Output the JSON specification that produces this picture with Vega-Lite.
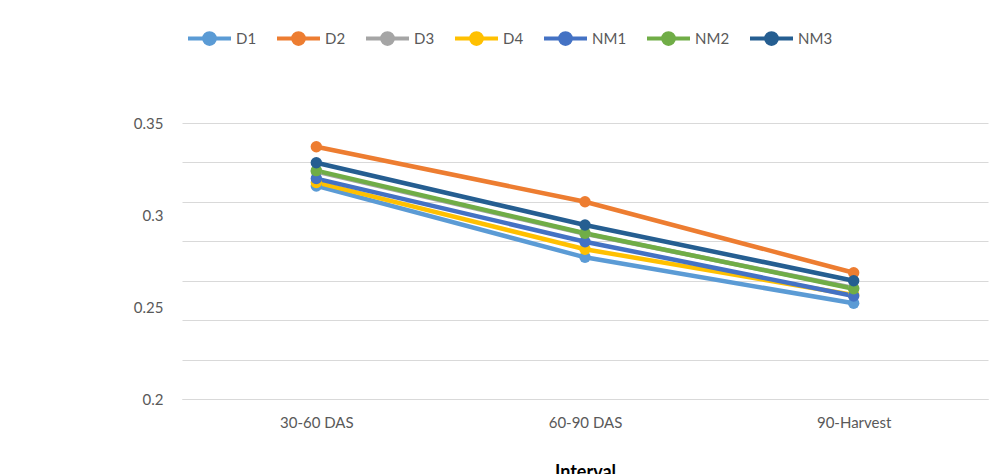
{
  "$schema": "https://vega.github.io/schema/vega-lite/v6.json",
  "autosize": "none",
  "width": 806,
  "height": 276,
  "padding": {"left": 182, "top": 123, "right": 14, "bottom": 75},
  "background": "white",
  "config": {
    "font": "Lato",
    "view": {"stroke": null}
  },
  "data": {
    "values": [
      {"stage": "30-60 DAS", "series": "D1", "value": 0.3158},
      {"stage": "60-90 DAS", "series": "D1", "value": 0.2770},
      {"stage": "90-Harvest", "series": "D1", "value": 0.2520},
      {"stage": "30-60 DAS", "series": "D2", "value": 0.3371},
      {"stage": "60-90 DAS", "series": "D2", "value": 0.3072},
      {"stage": "90-Harvest", "series": "D2", "value": 0.2686},
      {"stage": "30-60 DAS", "series": "D3", "value": 0.3236},
      {"stage": "60-90 DAS", "series": "D3", "value": 0.2898},
      {"stage": "90-Harvest", "series": "D3", "value": 0.2603},
      {"stage": "30-60 DAS", "series": "D4", "value": 0.3177},
      {"stage": "60-90 DAS", "series": "D4", "value": 0.2814},
      {"stage": "90-Harvest", "series": "D4", "value": 0.2565},
      {"stage": "30-60 DAS", "series": "NM1", "value": 0.3198},
      {"stage": "60-90 DAS", "series": "NM1", "value": 0.2855},
      {"stage": "90-Harvest", "series": "NM1", "value": 0.2560},
      {"stage": "30-60 DAS", "series": "NM2", "value": 0.3241},
      {"stage": "60-90 DAS", "series": "NM2", "value": 0.2901},
      {"stage": "90-Harvest", "series": "NM2", "value": 0.2599},
      {"stage": "30-60 DAS", "series": "NM3", "value": 0.3284},
      {"stage": "60-90 DAS", "series": "NM3", "value": 0.2946},
      {"stage": "90-Harvest", "series": "NM3", "value": 0.2643}
    ]
  },
  "layer": [
    {
      "mark": {"type": "line", "strokeWidth": 4.5},
      "encoding": {
        "x": {
          "field": "stage", "type": "ordinal",
          "scale": {"type": "point", "padding": 0.5},
          "axis": {
            "title": "Interval", "titleFontSize": 18, "titleFontWeight": "bold", "titleColor": "#000000", "titlePadding": 33,
            "labelAngle": 0, "labelFontSize": 15, "labelColor": "#595959", "labelPadding": 16,
            "ticks": false, "domainColor": "#d9d9d9", "domainWidth": 1, "grid": false
          }
        },
        "y": {
          "field": "value", "type": "quantitative",
          "scale": {"domain": [0.2, 0.35], "zero": false, "nice": false},
          "axis": {
            "orient": "left", "values": [0.2, 0.25, 0.3, 0.35], "grid": false, "ticks": false, "domain": false,
            "labelExpr": "'' + datum.value",
            "title": null, "labelFontSize": 15, "labelColor": "#595959", "labelPadding": 19
          }
        },
        "color": {
          "field": "series", "type": "nominal",
          "scale": {
            "domain": ["D1", "D2", "D3", "D4", "NM1", "NM2", "NM3"],
            "range": ["#5B9BD5", "#ED7D31", "#A5A5A5", "#FFC000", "#4472C4", "#70AD47", "#255E91"]
          },
          "legend": {
            "orient": "none", "direction": "horizontal", "legendX": 4, "legendY": -108,
            "title": null, "labelFontSize": 15, "labelColor": "#595959", "labelOffset": 3,
            "columnPadding": 12,
            "symbolType": "M-1,0H1M-0.25,0a0.25,0.25 0 1,0 0.5,0a0.25,0.25 0 1,0 -0.5,0",
            "symbolSize": 1849, "symbolStrokeWidth": 4
          }
        }
      }
    },
    {
      "mark": {"type": "point", "filled": true, "size": 130, "opacity": 1},
      "encoding": {
        "x": {"field": "stage", "type": "ordinal"},
        "y": {
          "field": "value", "type": "quantitative",
          "axis": {
            "orient": "right", "values": [0.2, 0.22142857, 0.24285714, 0.26428571, 0.28571429, 0.30714286, 0.32857143, 0.35],
            "grid": true, "gridColor": "#d9d9d9", "gridWidth": 1, "labels": false, "ticks": false, "domain": false, "title": null
          }
        },
        "color": {"field": "series", "type": "nominal", "legend": null}
      }
    }
  ],
  "resolve": {"axis": {"y": "independent"}}
}
